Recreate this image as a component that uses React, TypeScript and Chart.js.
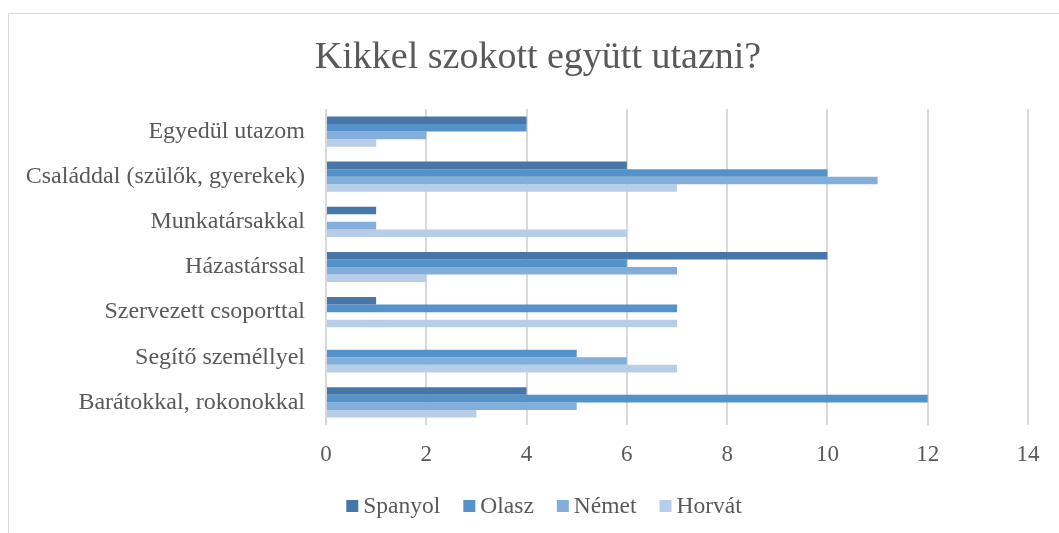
import React, { useEffect, useRef } from "react";
import { Chart, registerables } from "chart.js";

Chart.register(...registerables);

const categories = [
  "Egyedül utazom",
  "Családdal (szülők, gyerekek)",
  "Munkatársakkal",
  "Házastárssal",
  "Szervezett csoporttal",
  "Segítő személlyel",
  "Barátokkal, rokonokkal",
];

const spanyol = [4, 6, 1, 10, 1, 0, 4];
const olasz = [4, 10, 0, 6, 7, 5, 12];
const nemet = [2, 11, 1, 7, 0, 6, 5];
const horvat = [1, 7, 6, 2, 7, 7, 3];

const seriesNames = ["Spanyol", "Olasz", "Német", "Horvát"];
const seriesColors = ["#4677a8", "#5592c9", "#83aedb", "#b8cde8"];

const titleText = "Kikkel szokott együtt utazni?";
const xTicksMax = 14;
const xTickStep = 2;

const FONT = "'Liberation Serif', 'Times New Roman', serif";
const TEXT = "#595959";

const titleAndLegend = {
  id: "titleAndLegend",
  afterDraw(chart: any) {
    const ctx = chart.ctx as CanvasRenderingContext2D;
    ctx.save();
    ctx.fillStyle = TEXT;
    // title
    ctx.font = `38px ${FONT}`;
    ctx.textAlign = "center";
    ctx.textBaseline = "alphabetic";
    ctx.fillText(titleText, 538, 68);
    // legend
    ctx.font = `23.5px ${FONT}`;
    ctx.textAlign = "left";
    const box = 12;
    const gapBoxText = 5;
    const gapItems = 23;
    const widths = seriesNames.map((n) => ctx.measureText(n).width);
    const total =
      widths.reduce((a, w) => a + box + gapBoxText + w, 0) + gapItems * (seriesNames.length - 1);
    let x = 544 - total / 2;
    seriesNames.forEach((n, i) => {
      ctx.fillStyle = seriesColors[i];
      ctx.fillRect(x, 500, box, box);
      ctx.fillStyle = TEXT;
      ctx.fillText(n, x + box + gapBoxText, 513);
      x += box + gapBoxText + widths[i] + gapItems;
    });
    ctx.restore();
  },
};

export default function App() {
  const ref = useRef<HTMLCanvasElement>(null);

  useEffect(() => {
    if (!ref.current) return;
    const values = [spanyol, olasz, nemet, horvat];
    const chart = new Chart(ref.current, {
      type: "bar",
      data: {
        labels: categories,
        datasets: values.map((v, i) => ({
          label: seriesNames[i],
          data: v,
          backgroundColor: seriesColors[i],
          borderWidth: 0,
          barPercentage: 1,
          categoryPercentage: 0.67,
        })),
      },
      options: {
        indexAxis: "y",
        animation: false,
        responsive: false,
        maintainAspectRatio: false,
        layout: { padding: { left: 0, right: 31, top: 109, bottom: 0 } },
        plugins: {
          title: { display: false },
          legend: { display: false },
          tooltip: { enabled: false },
        },
        scales: {
          x: {
            min: 0,
            max: xTicksMax,
            ticks: {
              stepSize: xTickStep,
              color: TEXT,
              font: { family: FONT, size: 23, lineHeight: 1.2 },
              padding: 16,
            },
            grid: { color: "#d9d9d9", lineWidth: 2, drawTicks: false },
            border: { display: false },
            afterFit: (scale: any) => {
              scale.height = 108;
            },
          },
          y: {
            ticks: {
              color: TEXT,
              font: { family: FONT, size: 24 },
              padding: 21,
            },
            grid: { display: false, drawTicks: false },
            border: { display: false },
            afterFit: (scale: any) => {
              scale.width = 326;
            },
          },
        },
      },
      plugins: [titleAndLegend],
    });
    return () => chart.destroy();
  }, []);

  return (
    <div style={{ position: "fixed", left: 0, top: 0, width: 1059, height: 533, overflow: "hidden", background: "#fff" }}>
      <div
        style={{
          position: "absolute",
          left: 8,
          top: 13,
          width: 1200,
          height: 700,
          border: "1px solid #d9d9d9",
        }}
      />
      <canvas ref={ref} width={1059} height={533} style={{ position: "absolute", left: 0, top: 0 }} />
    </div>
  );
}
